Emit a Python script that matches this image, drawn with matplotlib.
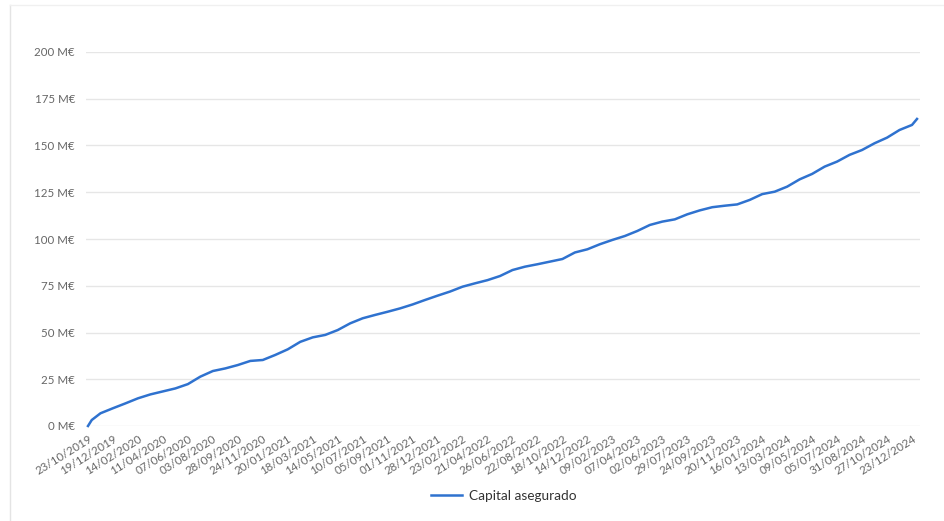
import matplotlib.pyplot as plt
import numpy as np
from matplotlib.lines import Line2D

# fechas mostradas en el eje x (una etiqueta cada 57 registros)
fechas = ['23/10/2019', '19/12/2019', '14/02/2020', '11/04/2020', '07/06/2020',
          '03/08/2020', '28/09/2020', '24/11/2020', '20/01/2021', '18/03/2021',
          '14/05/2021', '10/07/2021', '05/09/2021', '01/11/2021', '28/12/2021',
          '23/02/2022', '21/04/2022', '26/06/2022', '22/08/2022', '18/10/2022',
          '14/12/2022', '09/02/2023', '07/04/2023', '02/06/2023', '29/07/2023',
          '24/09/2023', '20/11/2023', '16/01/2024', '13/03/2024', '09/05/2024',
          '05/07/2024', '31/08/2024', '27/10/2024', '23/12/2024']

# posicion de cada muestra (en unidades de etiqueta) y capital en M€
posicion = [0, 0.15, 0.5, 1, 1.5, 2, 2.5, 3, 3.5, 4, 4.5, 5, 5.5, 6, 6.5, 7, 7.5,
            8, 8.5, 9, 9.5, 10, 10.5, 11, 11.5, 12, 12.5, 13, 13.5, 14, 14.5,
            15, 15.5, 16, 16.5, 17, 17.5, 18, 18.5, 19, 19.5, 20, 20.5, 21, 21.5,
            22, 22.5, 23, 23.5, 24, 24.5, 25, 25.5, 26, 26.5, 27, 27.5, 28, 28.5,
            29, 29.5, 30, 30.5, 31, 31.5, 32, 32.5, 33, 33.2]
capital = [0, 3.2, 6.8, 9.5, 12.1, 14.8, 16.9, 18.5, 20.1, 22.4, 26.4, 29.4,
           30.8, 32.6, 34.8, 35.3, 38.0, 41.0, 45.0, 47.4, 48.7, 51.3, 54.9,
           57.6, 59.4, 61.1, 62.9, 65.0, 67.4, 69.7, 71.9, 74.5, 76.3, 78.0,
           80.2, 83.4, 85.2, 86.5, 87.9, 89.3, 92.8, 94.5, 97.2, 99.5, 101.6,
           104.3, 107.5, 109.3, 110.5, 113.2, 115.3, 117.0, 117.8, 118.5, 120.9,
           124.0, 125.3, 128.0, 131.9, 134.8, 138.7, 141.4, 145.0, 147.6, 151.2,
           154.2, 158.3, 161.0, 164.2]

yticks = [0, 25, 50, 75, 100, 125, 150, 175, 200]

plt.rcParams['font.family'] = ['Lato', 'DejaVu Sans']

fig = plt.figure(figsize=(9.45, 5.21), dpi=100)
ax = fig.add_axes([86/945, 95/521, 834/945, 374/521])

linea, = ax.plot(posicion, capital, color='#2f72cf', lw=1.8, clip_on=False,
                 solid_joinstyle='round', zorder=3)

ax.set_xlim(-0.08, 33.32)
ax.set_ylim(0, 200)
ax.set_yticks(yticks)
ax.set_yticklabels([f'{v} M€' for v in yticks])
ax.set_xticks(np.arange(len(fechas)))
ax.set_xticklabels(fechas, rotation=32, ha='right', rotation_mode='anchor')

ax.grid(axis='y', color='#e6e6e6', lw=1)
ax.set_axisbelow(True)
for s in ax.spines.values():
    s.set_visible(False)
ax.tick_params(axis='both', length=0, labelsize=8.3, colors='#666666')
ax.tick_params(axis='y', pad=8)
ax.tick_params(axis='x', pad=5)

# borde de la tarjeta
fig.add_artist(Line2D([10/945, 10/945], [0, 1 - 5/521], color='#e4e4e4', lw=1))
fig.add_artist(Line2D([10/945, 1], [1 - 5/521, 1 - 5/521], color='#f0f0f0', lw=1))

fig.legend([linea], ['Capital asegurado'], loc='center',
           bbox_to_anchor=(504/945, 25/521), frameon=False, fontsize=9.8,
           handlelength=2.3, handletextpad=0.5, labelcolor='#333333')

fig.savefig('out.png', dpi=100)
